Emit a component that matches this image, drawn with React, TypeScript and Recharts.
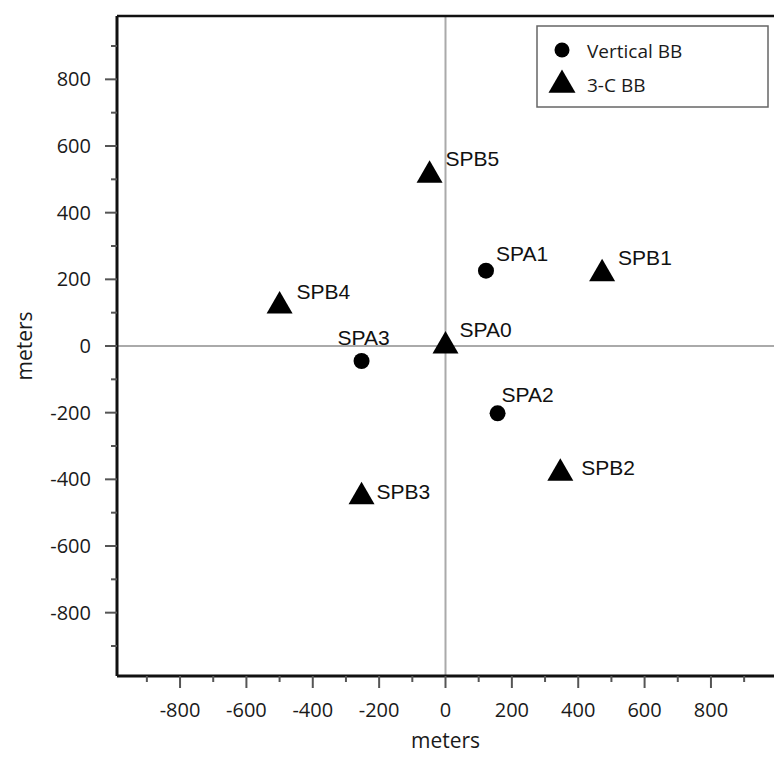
import React from 'react';
import {
  ScatterChart, Scatter, XAxis, YAxis, ReferenceLine,
} from 'recharts';

// Vertical BB stations (circles)
const verticalNames = ['SPA1', 'SPA2', 'SPA3'];
const verticalX = [122, 157, -253];
const verticalY = [226, -202, -45];

// 3-C BB stations (triangles)
const threeCNames = ['SPA0', 'SPB1', 'SPB2', 'SPB3', 'SPB4', 'SPB5'];
const threeCX = [0, 472, 346, -253, -500, -48];
const threeCY = [0, 217, -382, -452, 120, 512];

const axisTicks = [-900, -800, -700, -600, -500, -400, -300, -200, -100, 0, 100, 200, 300, 400, 500, 600, 700, 800, 900];
const labelledTicks = [-800, -600, -400, -200, 0, 200, 400, 600, 800];

// where each station name sits relative to its marker
const LABEL_OFFSET: Record<string, { dx: number; dy: number; anchor?: 'start' | 'middle' }> = {
  SPA0: { dx: 14, dy: -9 },
  SPA1: { dx: 10, dy: -10 },
  SPA2: { dx: 4, dy: -11 },
  SPA3: { dx: 2, dy: -16, anchor: 'middle' },
  SPB1: { dx: 16, dy: -9 },
  SPB2: { dx: 21, dy: 2 },
  SPB3: { dx: 15, dy: 2 },
  SPB4: { dx: 17, dy: -7 },
  SPB5: { dx: 16, dy: -9 },
};

const verticalData = verticalNames.map((name, i) => ({ name, x: verticalX[i], y: verticalY[i] }));
const threeCData = threeCNames.map((name, i) => ({ name, x: threeCX[i], y: threeCY[i] }));

const DOMAIN: [number, number] = [-990, 990];
const TICK_FONT = '"Open Sans", sans-serif';
const LABEL_FONT = '"Liberation Sans", Arial, sans-serif';
const TEXT_COLOR = '#1a1a1a';
const TICK_COLOR = '#555';
const AXIS_COLOR = '#111';

const tickLen = (v: number) => (v % 200 === 0 ? 12 : 6);

const BottomTick = ({ x, y, payload }: any) => {
  const v = payload.value;
  return (
    <g>
      <line x1={x} y1={y} x2={x} y2={y + tickLen(v)} stroke={TICK_COLOR} strokeWidth={2} />
      {labelledTicks.includes(v) && (
        <text x={x} y={y + 41} textAnchor="middle" fontFamily={TICK_FONT} fontSize={20} fill={TEXT_COLOR}>
          {v}
        </text>
      )}
    </g>
  );
};

const TopTick = ({ x, y, payload }: any) => (
  <line x1={x} y1={y} x2={x} y2={y - tickLen(payload.value)} stroke={TICK_COLOR} strokeWidth={2} />
);

const LeftTick = ({ x, y, payload }: any) => {
  const v = payload.value;
  return (
    <g>
      <line x1={x} y1={y} x2={x - tickLen(v)} y2={y} stroke={TICK_COLOR} strokeWidth={2} />
      {labelledTicks.includes(v) && (
        <text x={x - 26} y={y + 7} textAnchor="end" fontFamily={TICK_FONT} fontSize={20} fill={TEXT_COLOR}>
          {v}
        </text>
      )}
    </g>
  );
};

const StationLabel = ({ cx, cy, name }: { cx: number; cy: number; name: string }) => {
  const o = LABEL_OFFSET[name] || { dx: 12, dy: -8 };
  return (
    <text
      x={cx + o.dx} y={cy + o.dy}
      textAnchor={o.anchor || 'start'}
      fontFamily={LABEL_FONT} fontSize={21} fill="#111"
    >
      {name}
    </text>
  );
};

const CircleShape = (props: any) => {
  const { cx, cy, payload } = props;
  return (
    <g>
      <circle cx={cx} cy={cy} r={8} fill="#000" />
      <StationLabel cx={cx} cy={cy} name={payload.name} />
    </g>
  );
};

const TRI_SIDE = 26;
const triPoints = (cx: number, cy: number, s: number) => {
  const h = (s * Math.sqrt(3)) / 2;
  return `${cx},${cy - (2 * h) / 3} ${cx - s / 2},${cy + h / 3} ${cx + s / 2},${cy + h / 3}`;
};

const TriangleShape = (props: any) => {
  const { cx, cy, payload } = props;
  return (
    <g>
      <polygon points={triPoints(cx, cy, TRI_SIDE)} fill="#000" />
      <StationLabel cx={cx} cy={cy} name={payload.name} />
    </g>
  );
};

const XTitle = ({ viewBox }: any) => (
  <text
    x={viewBox.x + viewBox.width / 2} y={748}
    textAnchor="middle" fontFamily={TICK_FONT} fontSize={21} fill={TEXT_COLOR}
  >
    meters
  </text>
);

const YTitle = ({ viewBox }: any) => {
  const cy = viewBox.y + viewBox.height / 2;
  return (
    <text
      x={32} y={cy} transform={`rotate(-90, 32, ${cy})`}
      textAnchor="middle" fontFamily={TICK_FONT} fontSize={21} fill={TEXT_COLOR}
    >
      meters
    </text>
  );
};

function ChartLegend() {
  return (
    <svg width={233} height={83} style={{ position: 'absolute', left: 536, top: 25 }}>
      <rect x={1} y={1} width={231} height={81} fill="#fff" stroke="#666" strokeWidth={1.5} />
      <circle cx={26} cy={25} r={7.5} fill="#000" />
      <text x={51} y={33} fontFamily={TICK_FONT} fontSize={19} fill={TEXT_COLOR}>Vertical BB</text>
      <polygon points={triPoints(26, 60, 27)} fill="#000" />
      <text x={51} y={67} fontFamily={TICK_FONT} fontSize={19} fill={TEXT_COLOR}>3-C BB</text>
    </svg>
  );
}

export default function App() {
  return (
    <div style={{ position: 'absolute', left: 0, top: 0, width: 774, height: 757, background: '#fff' }}>
      <ScatterChart width={774} height={757} margin={{ top: 0, right: 0, bottom: 0, left: 0 }}>
        <XAxis
          xAxisId="top" orientation="top" type="number" dataKey="x"
          domain={DOMAIN} ticks={axisTicks} interval={0} height={16}
          tickSize={0} tickMargin={0} tick={<TopTick />} tickLine={false}
          axisLine={{ stroke: AXIS_COLOR, strokeWidth: 2.5 }}
        />
        <XAxis
          type="number" dataKey="x"
          domain={DOMAIN} ticks={axisTicks} interval={0} height={81}
          tickSize={0} tickMargin={0} tick={<BottomTick />} tickLine={false}
          axisLine={{ stroke: AXIS_COLOR, strokeWidth: 3 }}
          label={<XTitle />}
        />
        <YAxis
          type="number" dataKey="y"
          domain={DOMAIN} ticks={axisTicks} interval={0} width={117}
          tickSize={0} tickMargin={0} tick={<LeftTick />} tickLine={false}
          axisLine={{ stroke: AXIS_COLOR, strokeWidth: 3 }}
          label={<YTitle />}
        />
        <ReferenceLine x={0} stroke="#aaa" strokeWidth={2} />
        <ReferenceLine y={0} stroke="#aaa" strokeWidth={2} />
        <Scatter name="Vertical BB" data={verticalData} shape={CircleShape} isAnimationActive={false} />
        <Scatter name="3-C BB" data={threeCData} shape={TriangleShape} isAnimationActive={false} />
      </ScatterChart>
      <ChartLegend />
    </div>
  );
}
